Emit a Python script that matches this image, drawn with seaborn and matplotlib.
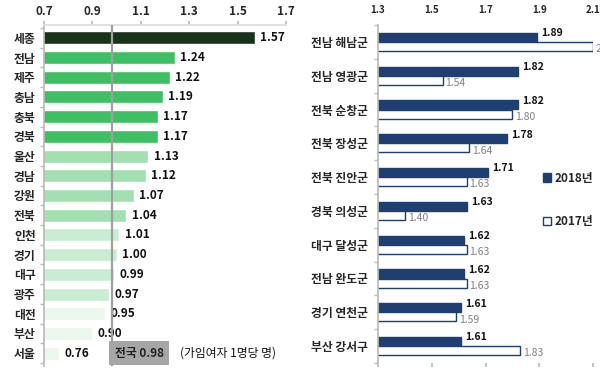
import pandas as pd
import seaborn as sns
import matplotlib.pyplot as plt
from matplotlib.patches import Patch

sns.set_theme(style='white')
plt.rcParams['font.family'] = ['Noto Sans CJK KR', 'DejaVu Sans']

# left panel: 시도별 합계출산율 (2018)
regions = ['세종', '전남', '제주', '충남', '충북', '경북', '울산', '경남', '강원',
           '전북', '인천', '경기', '대구', '광주', '대전', '부산', '서울']
rates = [1.57, 1.24, 1.22, 1.19, 1.17, 1.17, 1.13, 1.12, 1.07,
         1.04, 1.01, 1.00, 0.99, 0.97, 0.95, 0.90, 0.76]
national = 0.98
shade_group = [0, 1, 1, 1, 1, 1, 2, 2, 2, 2, 3, 3, 3, 3, 4, 4, 4]

# right panel: 시군구 상위 10
districts = ['전남 해남군', '전남 영광군', '전북 순창군', '전북 장성군', '전북 진안군',
             '경북 의성군', '대구 달성군', '전남 완도군', '경기 연천군', '부산 강서구']
v2018 = [1.89, 1.82, 1.82, 1.78, 1.71, 1.63, 1.62, 1.62, 1.61, 1.61]
v2017 = [2.10, 1.54, 1.80, 1.64, 1.63, 1.40, 1.63, 1.63, 1.59, 1.83]

greens = ['#17331c', '#3fbf63', '#a2dfb1', '#c9edd3', '#eaf7ed']
navy = '#1f3f73'

fig = plt.figure(figsize=(6, 3.72), dpi=100)

# ---- left chart ----
ax1 = fig.add_axes([44 / 600, 1 - 366 / 372, 242 / 600, 341 / 372])
df1 = pd.DataFrame({'region': regions, 'rate': rates})
sns.barplot(data=df1, x='rate', y='region', hue='region', legend=False,
            palette=[greens[g] for g in shade_group], width=0.66,
            saturation=1, ax=ax1)
ax1.set_xlim(0.7, 1.7)
ax1.set_ylim(16.65, -0.65)
for i, v in enumerate(rates):
    ax1.annotate(f'{v:.2f}', (v, i), xytext=(4, 0),
                 textcoords='offset points', va='center', ha='left',
                 fontsize=8.5, fontweight='bold', color='#111111')
ax1.axvline(national, color='#a0a0a0', lw=1.6, zorder=3)
ax1.text(national + 0.012, 16, f'전국 {national:.2f}', va='center', ha='left',
         fontsize=8.5, fontweight='bold', color='#222222', zorder=4,
         bbox=dict(boxstyle='square,pad=0.45', fc='#a6a6a6', ec='none'))
ax1.text(1.46, 16, '(가임여자 1명당 명)', va='center', ha='center',
         fontsize=8.5, color='#111111')
ax1.set_xticks([0.7, 0.9, 1.1, 1.3, 1.5, 1.7])
ax1.set_xticklabels(['0.7', '0.9', '1.1', '1.3', '1.5', '1.7'],
                    fontsize=8.5, fontweight='bold')
ax1.tick_params(axis='x', top=True, bottom=False, labeltop=True, labelbottom=False,
                length=3, pad=2, color='#bbbbbb')
ax1.set_yticks(range(len(regions)))
ax1.set_yticklabels(regions, fontsize=8.5, fontweight='bold')
ax1.tick_params(axis='y', length=0, pad=6)
ax1.set_yticks([i + 0.5 for i in range(-1, len(regions))], minor=True)
ax1.tick_params(axis='y', which='minor', length=3, color='#bbbbbb', left=True)
ax1.set_xlabel('')
ax1.set_ylabel('')
for s in ['right', 'bottom']:
    ax1.spines[s].set_visible(False)
ax1.spines['left'].set_color('#bbbbbb')
ax1.spines['top'].set_color('#dddddd')

# ---- right chart ----
ax2 = fig.add_axes([378 / 600, 1 - 363 / 372, 215 / 600, 338 / 372])
df2 = pd.DataFrame({
    'district': districts * 2,
    'value': v2018 + v2017,
    'year': ['2018년'] * len(districts) + ['2017년'] * len(districts),
})
sns.barplot(data=df2, x='value', y='district', hue='year',
            hue_order=['2018년', '2017년'],
            palette={'2018년': navy, '2017년': 'white'}, saturation=1,
            edgecolor=navy, linewidth=1.0, width=0.54, ax=ax2, legend=False)
ax2.set_xlim(1.3, 2.1)
ax2.set_ylim(9.5, -0.5)
for i, (a, b) in enumerate(zip(v2018, v2017)):
    ax2.annotate(f'{a:.2f}', (a, i - 0.135), xytext=(3, 3),
                 textcoords='offset points', va='center', ha='left',
                 fontsize=7.5, fontweight='bold', color='#111111')
    txt = '2' if b >= 2.1 else f'{b:.2f}'
    ax2.annotate(txt, (min(b, 2.1), i + 0.135), xytext=(2, -2),
                 textcoords='offset points', va='center', ha='left',
                 fontsize=7.5, color='#808080', annotation_clip=False)
ax2.set_xticks([1.3, 1.5, 1.7, 1.9, 2.1])
ax2.tick_params(axis='x', top=False, bottom=True, labeltop=True, labelbottom=False,
                length=3, color='#bbbbbb', pad=4)
ax2.set_xticklabels(['1.3', '1.5', '1.7', '1.9', '2.1'], fontsize=7, fontweight='bold')
ax2.set_yticks(range(len(districts)))
ax2.set_yticklabels(districts, fontsize=8.5, fontweight='bold')
ax2.tick_params(axis='y', length=0, pad=7)
ax2.set_yticks([i + 0.5 for i in range(-1, len(districts))], minor=True)
ax2.tick_params(axis='y', which='minor', length=3, color='#bbbbbb', left=True)
ax2.set_xlabel('')
ax2.set_ylabel('')
for s in ['right', 'top', 'bottom']:
    ax2.spines[s].set_visible(False)
ax2.spines['left'].set_color('#bbbbbb')

handles = [Patch(facecolor=navy, edgecolor=navy, label='2018년'),
           Patch(facecolor='white', edgecolor=navy, label='2017년')]
leg = fig.legend(handles=handles, loc='upper left', bbox_to_anchor=(532 / 600, 1 - 161 / 372),
                 frameon=False, fontsize=8.5, handlelength=0.7, handleheight=0.7,
                 handletextpad=0.3, labelspacing=2.6)
for t in leg.get_texts():
    t.set_fontweight('bold')

fig.savefig('out.png', dpi=100)
